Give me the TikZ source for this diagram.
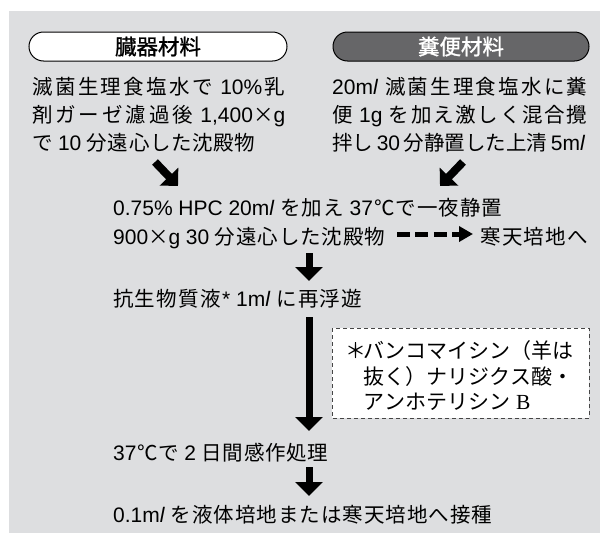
\documentclass[tikz,border=0pt]{standalone}
\usepackage{fontspec}
\setmainfont{Liberation Sans}
\newfontfamily\cj{Noto Sans CJK JP}[Scale=0.976]
\newfontfamily\cjb{Noto Sans CJK JP}[Scale=0.976,FakeBold=1.2]
\newfontfamily\serifB{Liberation Serif}
\usetikzlibrary{arrows.meta}
\definecolor{bggray}{RGB}{221,222,224}
\definecolor{pilldark}{RGB}{102,102,104}
\definecolor{dashgray}{RGB}{70,70,70}
\ExplSyntaxOn
\cs_new_protected:Npn \my_jj:n #1
  {
    \group_begin:
    \cj
    \bool_set_true:N \l_tmpa_bool
    \tl_map_inline:nn {#1}
      {
        \bool_if:NTF \l_tmpa_bool
          { \bool_set_false:N \l_tmpa_bool }
          { \skip_horizontal:n { 0pt plus 1pt } }
        ##1
      }
    \group_end:
  }
\NewDocumentCommand \jj { m } { \my_jj:n {#1} }
\ExplSyntaxOff
\newcommand{\gl}{\hskip 0pt plus 1pt\relax}
\newcommand{\mlu}{m\textit{l}}
\newcommand{\tms}{{\cj ×}}
\newcommand{\fit}[2]{\makebox[#1pt][s]{#2}}
\newcommand{\txtfont}{\fontsize{21}{21}\selectfont\spaceskip 4.7pt plus 1pt minus 1.5pt\relax}
\begin{document}
\begin{tikzpicture}[x=1pt,y=-1pt,
  txt/.style={anchor=base west, inner sep=0pt, font=\txtfont},
  notetxt/.style={anchor=base west, inner sep=0pt, font=\fontsize{21.5}{21.5}\selectfont},
  pill/.style={draw=black, line width=1pt, rounded corners=14.5pt, minimum height=29pt,
    inner sep=0pt, font=\fontsize{22}{22}\selectfont\cjb},
  bigarrow/.style={line width=7pt, -{Triangle[width=27pt,length=14pt]}},
  diagarrow/.style={line width=8pt, -{Triangle[width=25pt,length=13pt]}},
  dasharrow/.style={line width=5pt, dash pattern=on 12.7pt off 5.7pt,
    -{Triangle[width=15pt,length=14pt]}},
  notebox/.style={draw=dashgray, fill=white, line width=0.9pt, dash pattern=on 4pt off 3pt}
]
\useasboundingbox (0,0) rectangle (600,533);
\fill[bggray] (9,11) rectangle (600,533);

% headers
\node[pill, fill=white, minimum width=258pt] (hL) at (158,46.5) {臓器材料};
\node[pill, fill=pilldark, text=white, minimum width=256pt] (hR) at (461,46.5) {糞便材料};

% left column
\node[txt] (L1) at (32,94) {\fit{253}{\jj{滅菌生理食塩水で} 10\%\gl\jj{乳}}};
\node[txt] (L2) at (32,122) {\fit{253}{\jj{剤ガーゼ濾過後} 1,400\tms g}};
\node[txt] (L3) at (32,150) {\fit{223}{\jj{で} 10 \jj{分遠心した沈殿物}}};

% right column
\node[txt] (R1) at (332,94) {\fit{255}{20\mlu{} \jj{滅菌生理食塩水に糞}}};
\node[txt] (R2) at (332,122) {\fit{255}{\jj{便} 1g \jj{を加え激しく混合攪}}};
\node[txt] (R3) at (332,150) {\fit{253}{\jj{拌し} 30 \jj{分静置した上清} 5\mlu}};

% main flow
\node[txt] (M1) at (113,215) {\fit{389}{0.75\% HPC 20\mlu{} \jj{を加え} 37\gl\jj{℃で一夜静置}}};
\node[txt] (M2) at (113,244) {\fit{272}{900\tms g 30 \jj{分遠心した沈殿物}}};
\node[txt] (agar) at (480,244) {\fit{108}{\jj{寒天培地へ}}};
\node[txt] (M3) at (113,306) {\fit{249}{\jj{抗生物質液}\gl* 1\mlu{} \jj{に再浮遊}}};
\node[txt] (M4) at (113,460) {\fit{215}{37\gl\jj{℃で} 2 \jj{日間感作処理}}};
\node[txt] (M5) at (113,522) {\fit{379}{0.1\mlu{} \jj{を液体培地または寒天培地へ接種}}};

% note box
\draw[notebox] (332,328) rectangle (589,418);
\node[notetxt] (N1) at (345,358) {\makebox[18pt][l]{\cj ＊}\fit{210}{\jj{バンコマイシン（羊は}}};
\node[notetxt] (N2) at (363,384) {\fit{207}{\jj{抜く）ナリジクス酸・}}};
\node[notetxt] (N3) at (363,409) {\jj{アンホテリシン}\hspace{6pt}{\serifB B}};

% arrows
\coordinate (d1s) at (155,162); \coordinate (d1e) at (178,186);
\coordinate (d2s) at (463,162); \coordinate (d2e) at (440,186);
\draw[diagarrow] (d1s) -- (d1e);
\draw[diagarrow] (d2s) -- (d2e);
\coordinate (v1s) at (309,253); \coordinate (v1e) at (309,281);
\coordinate (v2s) at (309,317); \coordinate (v2e) at (309,431);
\coordinate (v3s) at (309,467); \coordinate (v3e) at (309,496);
\draw[bigarrow] (v1s) -- (v1e);
\draw[bigarrow] (v2s) -- (v2e);
\draw[bigarrow] (v3s) -- (v3e);
\coordinate (hs) at (397,234); \coordinate (he) at (473,234);
\draw[dasharrow] (hs) -- (he);
\end{tikzpicture}
\end{document}
